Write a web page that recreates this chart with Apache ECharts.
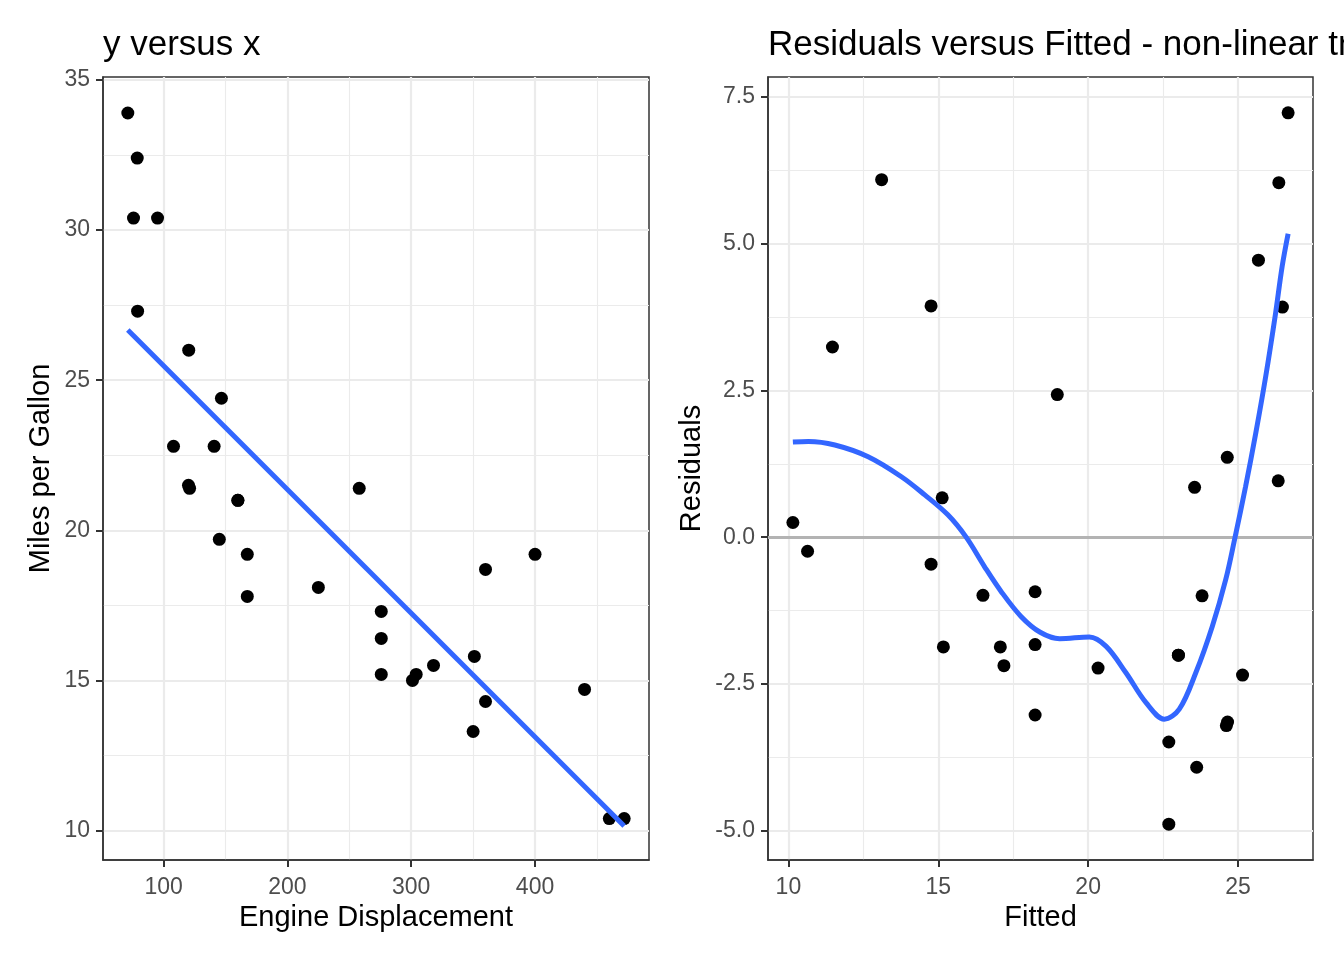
<!DOCTYPE html>
<html>
<head>
<meta charset="utf-8">
<title>mtcars residuals</title>
<script src="https://cdn.jsdelivr.net/npm/echarts@6/dist/echarts.min.js"></script>
<style>
  html, body { margin: 0; padding: 0; background: #fff; }
  #chart { width: 1344px; height: 960px; }
</style>
</head>
<body>
<div id="chart"></div>
<script>
// left panel: engine displacement vs mpg
const disp = [160, 160, 108, 258, 360, 225, 360, 146.7, 140.8, 167.6, 167.6, 275.8, 275.8, 275.8, 472, 460,
  440, 78.7, 75.7, 71.1, 120.1, 318, 304, 350, 400, 79, 120.3, 95.1, 351, 145, 301, 121];
const mpg = [21, 21, 22.8, 21.4, 18.7, 18.1, 14.3, 24.4, 22.8, 19.2, 17.8, 16.4, 17.3, 15.2, 10.4, 10.4,
  14.7, 32.4, 30.4, 33.9, 21.5, 15.5, 15.2, 13.3, 19.2, 27.3, 26, 30.4, 15.8, 19.7, 15, 21.4];
// straight fit line, ends
const fitLineX = [71.1, 472];
const fitLineY = [26.67, 10.15];

// right panel: residuals vs fitted
const fitted = [23.01, 23.01, 25.15, 18.97, 14.76, 20.33, 14.76, 23.55, 23.80, 22.69, 22.69, 18.23, 18.23, 18.23,
  10.15, 10.64, 11.47, 26.36, 26.48, 26.67, 24.65, 16.49, 17.07, 15.17, 13.11, 26.34, 24.64, 25.68, 15.13,
  23.62, 17.19, 24.61];
const resid = [-2.01, -2.01, -2.35, 2.43, 3.94, -2.23, -0.46, 0.85, -1.00, -3.49, -4.89, -1.83, -0.93, -3.03,
  0.25, -0.24, 3.24, 6.04, 3.92, 7.23, -3.15, -0.99, -1.87, -1.87, 6.09, 0.96, 1.36, 4.72, 0.67, -3.92,
  -2.19, -3.21];
// smoother curve
const smoothX = [10.15, 10.67, 11.55, 12.66, 13.77, 14.55, 15.32, 15.93, 16.54, 17.09, 17.76, 18.40, 19.05,
  20.04, 20.60, 21.26, 21.93, 22.54, 23.04, 23.59, 24.14, 24.59, 24.90, 25.25, 25.59, 25.92, 26.25, 26.47, 26.67];
const smoothY = [1.62, 1.63, 1.57, 1.37, 1.03, 0.72, 0.38, 0.00, -0.50, -0.92, -1.35, -1.62, -1.73,
  -1.70, -1.86, -2.31, -2.82, -3.10, -2.93, -2.31, -1.52, -0.72, 0.00, 0.86, 1.77, 2.73, 3.81, 4.61, 5.17];

// tick values
const leftXTicks = [100, 200, 300, 400];
const leftXMinor = [150, 250, 350, 450];
const leftYTicks = [10, 15, 20, 25, 30, 35];
const leftYMinor = [12.5, 17.5, 22.5, 27.5, 32.5];
const rightXTicks = [10, 15, 20, 25];
const rightXMinor = [12.5, 17.5, 22.5];
const rightYTicks = [-5, -2.5, 0, 2.5, 5, 7.5];
const rightYMinor = [-3.75, -1.25, 1.25, 3.75, 6.25];

const FONT = "'Liberation Sans', Arial, Helvetica, sans-serif";

function zip(a, b) {
  return a.map((v, i) => [v, b[i]]);
}

// visible axis with major ticks + major grid
function mainAxis(gridIndex, min, max, ticks, fmt, margin, extra) {
  return Object.assign({
    type: 'value',
    gridIndex: gridIndex,
    min: min,
    max: max,
    axisLine: { show: true, onZero: false, lineStyle: { color: '#333', width: 1.5 } },
    axisTick: { show: true, length: 7, customValues: ticks, lineStyle: { color: '#333', width: 2 } },
    axisLabel: {
      customValues: ticks, color: '#4d4d4d', fontSize: 23, fontFamily: FONT, margin: margin,
      formatter: fmt
    },
    splitLine: { show: true, lineStyle: { color: '#ebebeb', width: 2.2 } },
    nameLocation: 'middle',
    nameTextStyle: { color: '#000', fontSize: 29, fontFamily: FONT }
  }, extra || {});
}

// hidden axis only for the minor grid
function minorAxis(gridIndex, min, max, ticks) {
  return {
    type: 'value',
    gridIndex: gridIndex,
    min: min,
    max: max,
    axisLine: { show: false },
    axisTick: { show: false, customValues: ticks },
    axisLabel: { show: false, customValues: ticks },
    splitLine: { show: true, lineStyle: { color: '#ebebeb', width: 1.1 } }
  };
}

const chart = echarts.init(document.getElementById('chart'), null, { renderer: 'canvas' });

const option = {
  animation: false,
  backgroundColor: '#fff',
  title: [
    { text: 'y versus x', left: 98, top: 23, textStyle: { fontSize: 35, fontWeight: 'normal', color: '#000', fontFamily: FONT } },
    { text: 'Residuals versus Fitted - non-linear trend', left: 763, top: 23, textStyle: { fontSize: 35, fontWeight: 'normal', color: '#000', fontFamily: FONT } }
  ],
  grid: [
    { left: 103, top: 77, width: 546, height: 783, show: true, borderColor: '#333', borderWidth: 1.5, backgroundColor: 'transparent' },
    { left: 768, top: 77, width: 545, height: 783, show: true, borderColor: '#333', borderWidth: 1.5, backgroundColor: 'transparent' }
  ],
  xAxis: [
    mainAxis(0, 51.05, 492.05, leftXTicks, v => String(v), 16, { name: 'Engine Displacement', nameGap: 40 }),
    mainAxis(1, 9.32, 27.5, rightXTicks, v => String(v), 16, { name: 'Fitted', nameGap: 40 }),
    minorAxis(0, 51.05, 492.05, leftXMinor),
    minorAxis(1, 9.32, 27.5, rightXMinor)
  ],
  yAxis: [
    mainAxis(0, 9.02, 35.1, leftYTicks, v => String(v), 13, { name: 'Miles per Gallon', nameGap: 48 }),
    mainAxis(1, -5.5, 7.84, rightYTicks, v => v.toFixed(1), 13, { name: 'Residuals', nameGap: 62 }),
    minorAxis(0, 9.02, 35.1, leftYMinor),
    minorAxis(1, -5.5, 7.84, rightYMinor)
  ],
  series: [
    {
      type: 'scatter',
      xAxisIndex: 0, yAxisIndex: 0,
      data: zip(disp, mpg),
      symbolSize: 13,
      itemStyle: { color: '#000', opacity: 1 },
      z: 3
    },
    {
      type: 'line',
      xAxisIndex: 0, yAxisIndex: 0,
      data: zip(fitLineX, fitLineY),
      showSymbol: false,
      lineStyle: { color: '#3366ff', width: 5 },
      z: 4
    },
    {
      type: 'scatter',
      xAxisIndex: 1, yAxisIndex: 1,
      data: zip(fitted, resid),
      symbolSize: 13,
      itemStyle: { color: '#000', opacity: 1 },
      z: 3,
      markLine: {
        silent: true,
        symbol: 'none',
        z: 1,
        label: { show: false },
        lineStyle: { color: '#b3b3b3', width: 3, type: 'solid' },
        data: [{ yAxis: 0 }]
      }
    },
    {
      type: 'line',
      xAxisIndex: 1, yAxisIndex: 1,
      data: zip(smoothX, smoothY),
      smooth: 0.35,
      showSymbol: false,
      lineStyle: { color: '#3366ff', width: 5 },
      z: 4
    }
  ]
};

chart.setOption(option);
</script>
</body>
</html>
